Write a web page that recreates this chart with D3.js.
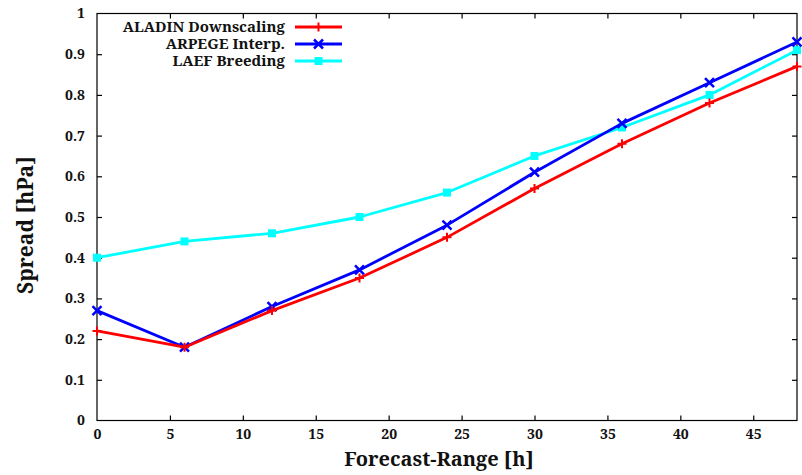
<!DOCTYPE html>
<html>
<head>
<meta charset="utf-8">
<script src="https://cdn.jsdelivr.net/npm/d3@7"></script>
<style>
  html, body { margin: 0; padding: 0; background: #fff; }
  svg { display: block; }
</style>
</head>
<body>
<svg id="chart" width="802" height="475"></svg>
<script>
// Forecast lead times (hours)
const hours = [0, 6, 12, 18, 24, 30, 36, 42, 48];

// Ensemble spread per method [hPa]
const aladin = [0.22, 0.18, 0.27, 0.35, 0.45, 0.57, 0.68, 0.78, 0.87];
const arpege = [0.27, 0.18, 0.28, 0.37, 0.48, 0.61, 0.73, 0.83, 0.93];
const laef   = [0.40, 0.44, 0.46, 0.50, 0.56, 0.65, 0.72, 0.80, 0.91];

const seriesNames = ["ALADIN Downscaling", "ARPEGE Interp.", "LAEF Breeding"];
const seriesColors = ["#ff0000", "#0000ff", "#00ffff"];
const seriesMarkers = ["plus", "cross", "square"];

const xTicks = [0, 5, 10, 15, 20, 25, 30, 35, 40, 45];
const yTicks = [0, 0.1, 0.2, 0.3, 0.4, 0.5, 0.6, 0.7, 0.8, 0.9, 1];

const FONT = '"Noto Serif", "Liberation Serif", serif';

const series = [aladin, arpege, laef].map((vals, i) => ({
  name: seriesNames[i], color: seriesColors[i], marker: seriesMarkers[i],
  points: hours.map((h, j) => ({ h, v: vals[j] }))
}));

const svg = d3.select("#chart");
const plotLeft = 97, plotRight = 797, plotTop = 13.5, plotBottom = 420.5;

const x = d3.scaleLinear().domain([0, 48]).range([plotLeft, plotRight]);
const y = d3.scaleLinear().domain([0, 1]).range([plotBottom, plotTop]);

function styleText(sel, size) {
  return sel.style("font-family", FONT).style("font-weight", "bold")
    .style("font-size", size + "px").style("fill", "#111");
}

// Frame with inward ticks on all four sides
const tickLen = 5;
svg.append("rect")
  .attr("x", plotLeft).attr("y", plotTop)
  .attr("width", plotRight - plotLeft).attr("height", plotBottom - plotTop)
  .attr("fill", "none").attr("stroke", "#000").attr("stroke-width", 1.2);

const xb = svg.append("g").attr("transform", `translate(0,${plotBottom})`)
  .call(d3.axisBottom(x).tickValues(xTicks).tickSize(-tickLen).tickPadding(9).tickFormat(d3.format("d")));
const xt = svg.append("g").attr("transform", `translate(0,${plotTop})`)
  .call(d3.axisTop(x).tickValues(xTicks).tickSize(-tickLen).tickFormat(""));
const yl = svg.append("g").attr("transform", `translate(${plotLeft},0)`)
  .call(d3.axisLeft(y).tickValues(yTicks).tickSize(-tickLen).tickPadding(12)
    .tickFormat(d => d === 0 ? "0" : d === 1 ? "1" : d3.format(".1f")(d)));
const yr = svg.append("g").attr("transform", `translate(${plotRight},0)`)
  .call(d3.axisRight(y).tickValues(yTicks).tickSize(-tickLen).tickFormat(""));

[xb, xt, yl, yr].forEach(g => {
  g.select(".domain").remove();
  g.selectAll(".tick line").attr("stroke", "#000").attr("stroke-width", 1.2);
  styleText(g.selectAll("text"), 14);
});
// drop tick marks that coincide with the frame corners
xb.selectAll(".tick").filter(d => d === 0).select("line").remove();
xt.selectAll(".tick").filter(d => d === 0).select("line").remove();
yl.selectAll(".tick").filter(d => d === 0 || d === 1).select("line").remove();
yr.selectAll(".tick").filter(d => d === 0 || d === 1).select("line").remove();

// Axis titles
styleText(svg.append("text")
  .attr("x", 439).attr("y", 466)
  .attr("text-anchor", "middle")
  .text("Forecast-Range [h]"), 20);
styleText(svg.append("text")
  .attr("transform", `translate(33,225) rotate(-90)`)
  .attr("text-anchor", "middle")
  .text("Spread [hPa]"), 21);

// Point markers
function drawMarker(g, type, cx, cy, color) {
  const s = 4.5;
  if (type === "plus") {
    g.append("path").attr("d", `M${cx - s},${cy}H${cx + s}M${cx},${cy - s}V${cy + s}`)
      .attr("stroke", color).attr("stroke-width", 2).attr("fill", "none");
  } else if (type === "cross") {
    g.append("path").attr("d", `M${cx - s},${cy - s}L${cx + s},${cy + s}M${cx - s},${cy + s}L${cx + s},${cy - s}`)
      .attr("stroke", color).attr("stroke-width", 2.5).attr("fill", "none");
  } else {
    g.append("rect").attr("x", cx - 4).attr("y", cy - 4).attr("width", 8).attr("height", 8)
      .attr("fill", color);
  }
}

const line = d3.line().x(d => x(d.h)).y(d => y(d.v));
const plotG = svg.append("g");

// draw in reverse so ALADIN ends up on top
series.slice().reverse().forEach(s => {
  plotG.append("path").datum(s.points)
    .attr("d", line).attr("fill", "none")
    .attr("stroke", s.color).attr("stroke-width", 2.8).attr("stroke-linejoin", "round");
  s.points.forEach(p => drawMarker(plotG, s.marker, x(p.h), y(p.v), s.color));
});

// Legend
const legend = svg.append("g");
const legY = [27, 44, 61];
series.forEach((s, i) => {
  styleText(legend.append("text")
    .attr("x", 285).attr("y", legY[i]).attr("dy", "0.35em")
    .attr("text-anchor", "end")
    .text(s.name), 15);
  legend.append("line")
    .attr("x1", 295).attr("x2", 342).attr("y1", legY[i]).attr("y2", legY[i])
    .attr("stroke", s.color).attr("stroke-width", 2.8);
  drawMarker(legend, s.marker, 318.5, legY[i], s.color);
});
</script>
</body>
</html>
